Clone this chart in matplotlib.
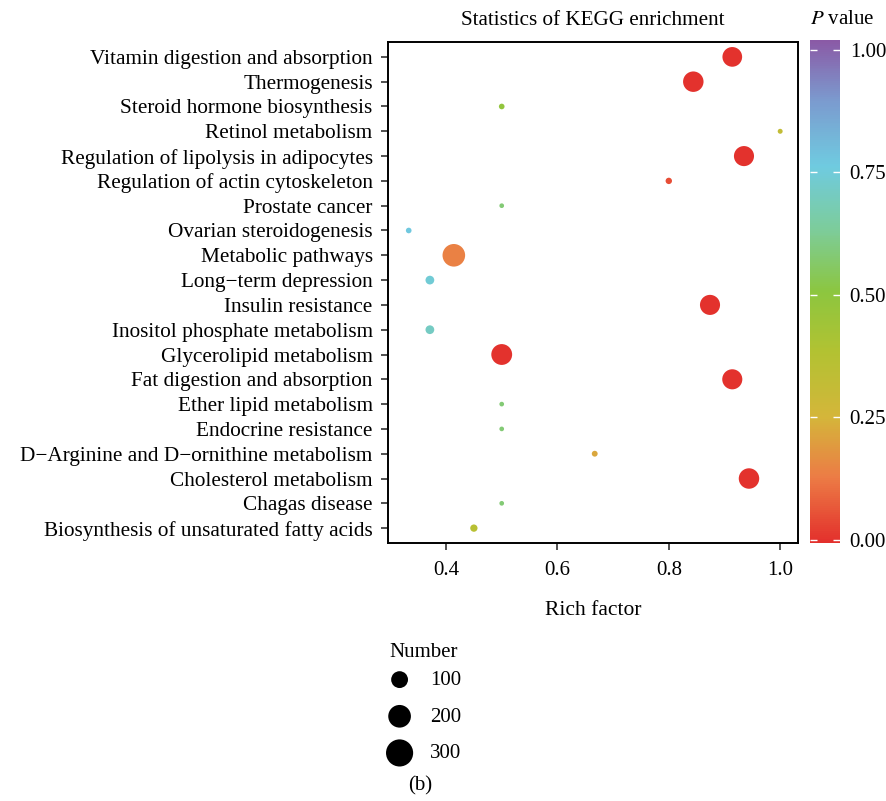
import numpy as np
import matplotlib
matplotlib.use("Agg")
import matplotlib.pyplot as plt
from matplotlib.colors import LinearSegmentedColormap, Normalize

plt.rcParams['font.family'] = ['Liberation Serif', 'DejaVu Serif']

pathways = [
    "Vitamin digestion and absorption",
    "Thermogenesis",
    "Steroid hormone biosynthesis",
    "Retinol metabolism",
    "Regulation of lipolysis in adipocytes",
    "Regulation of actin cytoskeleton",
    "Prostate cancer",
    "Ovarian steroidogenesis",
    "Metabolic pathways",
    "Long\u2212term depression",
    "Insulin resistance",
    "Inositol phosphate metabolism",
    "Glycerolipid metabolism",
    "Fat digestion and absorption",
    "Ether lipid metabolism",
    "Endocrine resistance",
    "D\u2212Arginine and D\u2212ornithine metabolism",
    "Cholesterol metabolism",
    "Chagas disease",
    "Biosynthesis of unsaturated fatty acids",
]
rich_factor = [0.914, 0.844, 0.500, 1.000, 0.935, 0.800, 0.500, 0.333, 0.414, 0.371,
               0.874, 0.371, 0.500, 0.914, 0.500, 0.500, 0.667, 0.944, 0.500, 0.450]
p_value = [0.00, 0.00, 0.49, 0.32, 0.00, 0.05, 0.58, 0.77, 0.14, 0.74,
           0.00, 0.71, 0.00, 0.00, 0.58, 0.58, 0.22, 0.00, 0.58, 0.36]
number = [220, 240, 8, 5, 230, 12, 4, 8, 300, 30,
          230, 30, 250, 230, 4, 4, 9, 240, 4, 18]

legend_numbers = [100, 200, 300]
cbar_ticks = [0.00, 0.25, 0.50, 0.75, 1.00]
x_ticks = [0.4, 0.6, 0.8, 1.0]

DPI = 100


def marker_area(n):
    r_px = 1.17 + 0.585 * np.sqrt(np.asarray(n, dtype=float))
    return (2 * r_px * 72.0 / DPI) ** 2


cmap = LinearSegmentedColormap.from_list("pv", [
    (0.00, "#e3302c"),
    (0.13, "#ec7c45"),
    (0.25, "#d4b63a"),
    (0.38, "#b2c232"),
    (0.50, "#8cc63f"),
    (0.62, "#7dcc98"),
    (0.75, "#6fcbe0"),
    (0.88, "#7b9bcf"),
    (1.00, "#8a5aa6"),
])
norm = Normalize(vmin=-0.006, vmax=1.02)

fig = plt.figure(figsize=(8.87, 8.01), dpi=DPI)
ax = fig.add_axes([388 / 887, 1 - 543 / 801, 410 / 887, 501 / 801])

n = len(pathways)
ypos = np.arange(n, 0, -1)
sc = ax.scatter(rich_factor, ypos, s=marker_area(number), c=p_value, cmap=cmap,
                norm=norm, edgecolors='none', zorder=3)

ax.set_ylim(0.4, n + 0.6)
ax.set_xlim(0.2958, 1.032)
ax.set_yticks(ypos)
ax.set_yticklabels(pathways, fontsize=15.3)
ax.set_xticks(x_ticks)
ax.set_xticklabels([f"{v:.1f}" for v in x_ticks], fontsize=15)
ax.tick_params(axis='both', length=5, width=1.2, color='#333333', pad=5)
ax.tick_params(axis='y', pad=6)
ax.tick_params(axis='x', pad=8)
for s in ax.spines.values():
    s.set_linewidth(1.4)
    s.set_color('black')
ax.set_xlabel("Rich factor", fontsize=15.5, labelpad=15)
ax.set_title("Statistics of KEGG enrichment", fontsize=15.2, pad=12)

# colorbar
cax = fig.add_axes([810 / 887, 1 - 543 / 801, 30 / 887, 503 / 801])
cb = fig.colorbar(sc, cax=cax, ticks=cbar_ticks)
cb.outline.set_visible(False)
cb.ax.set_yticklabels([f"{t:.2f}" for t in cbar_ticks], fontsize=15)
cb.ax.tick_params(direction='in', left=True, right=True, length=5, width=1,
                  color='white', pad=7)
fig.text(810 / 887, 1 - 20 / 801, r"$P$ value", fontsize=15, ha='left', va='center',
         math_fontfamily='stix')

# size legend
handles = [ax.scatter([], [], s=marker_area(v), c='black', edgecolors='none')
           for v in legend_numbers]
leg = fig.legend(handles, [str(v) for v in legend_numbers], title="Number",
                 loc='upper left', bbox_to_anchor=(385 / 887, 1 - 639 / 801),
                 frameon=False, fontsize=15, title_fontsize=15, markerscale=1.2,
                 labelspacing=0.82, handlelength=1.0, handletextpad=0.95,
                 borderpad=0.2, borderaxespad=0.0)
leg._legend_box.align = "left"
leg._legend_box.sep = 6

fig.text(420 / 887, 1 - 786 / 801, "(b)", fontsize=15, ha='center', va='center')

fig.savefig("out.png", dpi=DPI)
